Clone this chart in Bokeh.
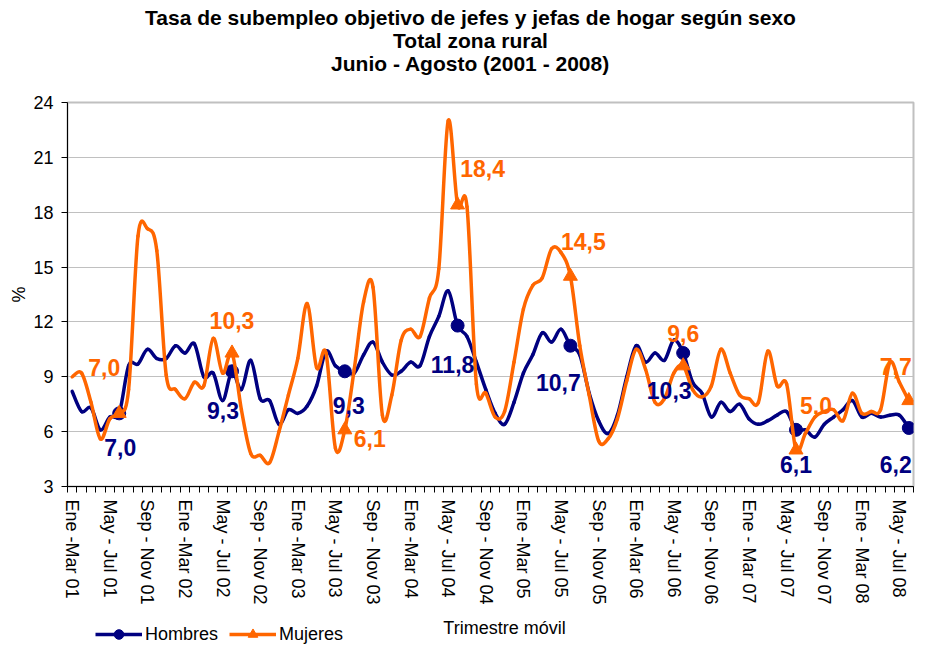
import numpy as np
from bokeh.plotting import figure
from bokeh.layouts import column
from bokeh.models import (ColumnDataSource, FixedTicker, Label, LabelSet, Legend,
                          LegendItem, Range1d)
from bokeh.embed import file_html
from bokeh.resources import INLINE
from bokeh.core.properties import value

# ---------------- data ----------------
hombres = [8.2, 7.1, 7.3, 6.1, 6.8, 7.0, 9.6, 9.7, 10.5, 10.0, 10.0, 10.7,
           10.3, 10.8, 9.0, 9.2, 7.7, 9.3, 8.3, 9.9, 7.8, 7.7, 6.4, 7.2,
           7.0, 7.4, 8.5, 10.4, 9.6, 9.3, 9.2, 10.2, 10.9, 9.8, 9.1, 9.3,
           9.8, 9.6, 11.2, 12.3, 13.7, 11.8, 11.2, 9.8, 8.3, 7.0, 6.4, 7.6,
           9.2, 10.2, 11.4, 10.9, 11.6, 10.7, 10.2, 8.1, 6.6, 5.9, 6.9, 9.0,
           10.7, 9.8, 10.3, 9.9, 11.0, 10.3, 8.7, 8.1, 6.8, 7.6, 7.1, 7.5,
           6.7, 6.4, 6.6, 6.9, 7.1, 6.1, 6.1, 5.7, 6.4, 6.8, 7.2, 7.7,
           6.8, 7.0, 6.8, 6.9, 6.9, 6.2]

mujeres = [9.0, 9.2, 7.6, 5.6, 6.7, 7.0, 8.3, 16.7, 17.1, 15.9, 9.1, 8.3,
           7.8, 8.7, 8.5, 11.1, 9.2, 10.3, 7.2, 4.8, 4.7, 4.3, 6.0, 8.0,
           10.0, 13.0, 9.5, 10.3, 5.1, 6.1, 9.4, 13.1, 13.9, 6.9, 8.0, 11.0,
           11.6, 11.2, 13.3, 14.9, 23.0, 18.4, 18.3, 8.6, 8.1, 6.8, 7.1, 9.8,
           12.7, 14.0, 14.4, 16.0, 15.8, 14.5, 10.7, 8.0, 5.5, 5.6, 6.7, 8.8,
           10.5, 9.4, 7.6, 7.8, 9.2, 9.6, 8.3, 7.9, 8.5, 10.5, 9.2, 8.0,
           7.8, 7.6, 10.4, 8.5, 8.6, 5.0, 5.9, 6.8, 7.1, 7.2, 6.6, 8.1,
           7.0, 7.1, 7.2, 9.8, 8.7, 7.7]

tick_labels = ["Ene -Mar 01", "May - Jul 01", "Sep - Nov 01",
               "Ene -Mar 02", "May - Jul 02", "Sep - Nov 02",
               "Ene -Mar 03", "May - Jul 03", "Sep - Nov 03",
               "Ene -Mar 04", "May - Jul 04", "Sep - Nov 04",
               "Ene -Mar 05", "May - Jul 05", "Sep - Nov 05",
               "Ene -Mar 06", "May - Jul 06", "Sep - Nov 06",
               "Ene - Mar 07", "May - Jul 07", "Sep - Nov 07",
               "Ene - Mar 08", "May - Jul 08"]

title_lines = ["Tasa de subempleo objetivo de jefes y jefas de hogar según sexo",
               "Total zona rural",
               "Junio - Agosto (2001 - 2008)"]
x_title = "Trimestre móvil"
series_names = ["Hombres", "Mujeres"]

# label offsets (px) for the Junio-Agosto data labels
h_dx = [1, -9, 4, -5, -12, -14, 0, -13]
h_dy = [-34, -39, -34, -39, -37, -37, -35, -37]
m_dx = [-15, 0, 25, 25, 13, 0, 20, -13]
m_dy = [46, 33, -9, 36, 35, 32, 44, 34]

NAVY = "#000080"
ORANGE = "#FF6600"
FONT = "Liberation Sans"

n = len(hombres)
xs = list(range(n))
jun_ago = [i for i in xs if i % 12 == 5]     # Jun-Ago of every year

FRAME_L, FRAME_R = 67, 913                   # page px of the plot frame


def bezier_source(vals):
    x = np.arange(len(vals), dtype=float)
    y = np.asarray(vals, dtype=float)
    m = len(vals)
    xp = np.concatenate([[x[0]], x, [x[-1]]])
    yp = np.concatenate([[y[0]], y, [y[-1]]])
    d = dict(
        x0=xp[1:m], y0=yp[1:m], x1=xp[2:m + 1], y1=yp[2:m + 1],
        cx0=xp[1:m] + (xp[2:m + 1] - xp[0:m - 1]) / 6.0,
        cy0=yp[1:m] + (yp[2:m + 1] - yp[0:m - 1]) / 6.0,
        cx1=xp[2:m + 1] - (xp[3:m + 2] - xp[1:m]) / 6.0,
        cy1=yp[2:m + 1] - (yp[3:m + 2] - yp[1:m]) / 6.0,
    )
    return ColumnDataSource(d)


def fmt(v):
    return f"{v:.1f}".replace(".", ",")


def strip(height):
    f = figure(width=935, height=height, output_backend="svg",
               toolbar_location=None, x_range=Range1d(FRAME_L, FRAME_R),
               y_range=Range1d(0, height), x_axis_location=None,
               y_axis_location=None, min_border_left=FRAME_L,
               min_border_right=935 - FRAME_R, min_border_top=0,
               min_border_bottom=0)
    f.outline_line_color = None
    f.grid.visible = False
    f.background_fill_color = "white"
    f.border_fill_color = "white"
    return f


# ---------------- top strip: title ----------------
TOP_H = 80
t = strip(TOP_H)
for line, py in zip(title_lines, (17, 40, 63)):
    t.add_layout(Label(x=470, y=TOP_H - py, text=line, text_align="center",
                       text_baseline="middle", text_font=FONT,
                       text_font_size="21px", text_font_style="bold",
                       text_color="black"))

# ---------------- main chart ----------------
p = figure(width=935, height=532, output_backend="svg", toolbar_location=None,
           x_range=Range1d(-0.5, n - 0.5), y_range=Range1d(3, 24),
           min_border_left=FRAME_L, min_border_right=935 - FRAME_R,
           min_border_top=102 - TOP_H, min_border_bottom=126)
p.title.visible = False
p.background_fill_color = "white"
p.border_fill_color = "white"
p.outline_line_color = "#c0c0c0"
p.outline_line_width = 2

p.xaxis.ticker = FixedTicker(ticks=list(range(0, n, 4)),
                             minor_ticks=[i - 0.5 for i in range(n + 1)])
p.xaxis.major_label_overrides = {t_: lab for t_, lab in zip(range(0, n, 4), tick_labels)}
p.xaxis.major_label_orientation = "vertical"
p.xaxis.major_tick_out = 0
p.xaxis.major_tick_in = 0
p.xaxis.minor_tick_out = 6
p.xaxis.minor_tick_in = 0
p.xaxis.minor_tick_line_color = "black"
p.xaxis.major_label_standoff = 7

p.yaxis.ticker = FixedTicker(ticks=list(range(3, 25, 3)), minor_ticks=[])
p.yaxis.major_tick_out = 6
p.yaxis.major_tick_in = 0
p.yaxis.minor_tick_out = 0
p.yaxis.minor_tick_in = 0
p.yaxis.major_label_standoff = 8
p.yaxis.axis_label = "%"
p.yaxis.axis_label_standoff = 1

for ax in (p.xaxis, p.yaxis):
    ax.axis_line_color = "black"
    ax.major_tick_line_color = "black"
    ax.major_label_text_font = FONT
    ax.major_label_text_font_size = "18px"
    ax.major_label_text_color = "black"
    ax.axis_label_text_font = FONT
    ax.axis_label_text_font_size = "18px"
    ax.axis_label_text_font_style = "normal"
    ax.axis_label_text_color = "black"

p.xgrid.visible = False
p.ygrid.ticker = FixedTicker(ticks=list(range(3, 25, 3)))
p.ygrid.grid_line_color = "#c0c0c0"
p.ygrid.grid_line_width = 1

p.bezier("x0", "y0", "x1", "y1", "cx0", "cy0", "cx1", "cy1",
         source=bezier_source(hombres), line_color=NAVY, line_width=3.5,
         line_cap="round", line_join="round")
h_pts = ColumnDataSource(dict(x=jun_ago, y=[hombres[i] for i in jun_ago],
                              text=[fmt(hombres[i]) for i in jun_ago],
                              dx=h_dx, dy=h_dy))
p.scatter("x", "y", source=h_pts, marker="circle", size=13,
          fill_color=NAVY, line_color=NAVY)

p.bezier("x0", "y0", "x1", "y1", "cx0", "cy0", "cx1", "cy1",
         source=bezier_source(mujeres), line_color=ORANGE, line_width=3.5,
         line_cap="round", line_join="round")
m_pts = ColumnDataSource(dict(x=jun_ago, y=[mujeres[i] for i in jun_ago],
                              text=[fmt(mujeres[i]) for i in jun_ago],
                              dx=m_dx, dy=m_dy))
p.scatter("x", "y", source=m_pts, marker="triangle", size=14,
          fill_color=ORANGE, line_color=ORANGE)

for src, col in ((h_pts, NAVY), (m_pts, ORANGE)):
    p.add_layout(LabelSet(x="x", y="y", text="text", source=src,
                          x_offset="dx", y_offset="dy",
                          text_align="center", text_baseline="middle",
                          text_font=value(FONT), text_font_style="bold",
                          text_font_size="23px", text_color=col))

# ---------------- bottom strip: legend + x axis title ----------------
BOT_H = 35
s = strip(BOT_H)
# legend proxies: the same series, mapped to a range that is never shown
s.extra_y_ranges = {"off": Range1d(1000, 1001)}
items = []
for name, vals, col, mk in zip(series_names, (hombres, mujeres),
                               (NAVY, ORANGE), ("circle", "triangle")):
    xx = [FRAME_L + i for i in xs]
    ln = s.line(x=xx, y=vals, y_range_name="off", line_color=col, line_width=3.5)
    sc = s.scatter(x=xx, y=vals, y_range_name="off", marker=mk, size=12,
                   fill_color=col, line_color=col)
    items.append(LegendItem(label=name, renderers=[ln, sc]))

s.add_layout(Legend(items=items, orientation="horizontal", location=(95 - FRAME_L, 1),
                    border_line_color=None, background_fill_alpha=0,
                    padding=0, margin=0, spacing=11, glyph_width=47,
                    glyph_height=24, label_standoff=3, label_text_font=FONT,
                    label_text_font_size="18px", label_text_color="black"))
s.add_layout(Label(x=504, y=20, text=x_title, text_align="center",
                   text_baseline="middle", text_font=FONT,
                   text_font_size="18px", text_color="black"))

open("out.html", "w").write(file_html(column(t, p, s, spacing=0), INLINE))
